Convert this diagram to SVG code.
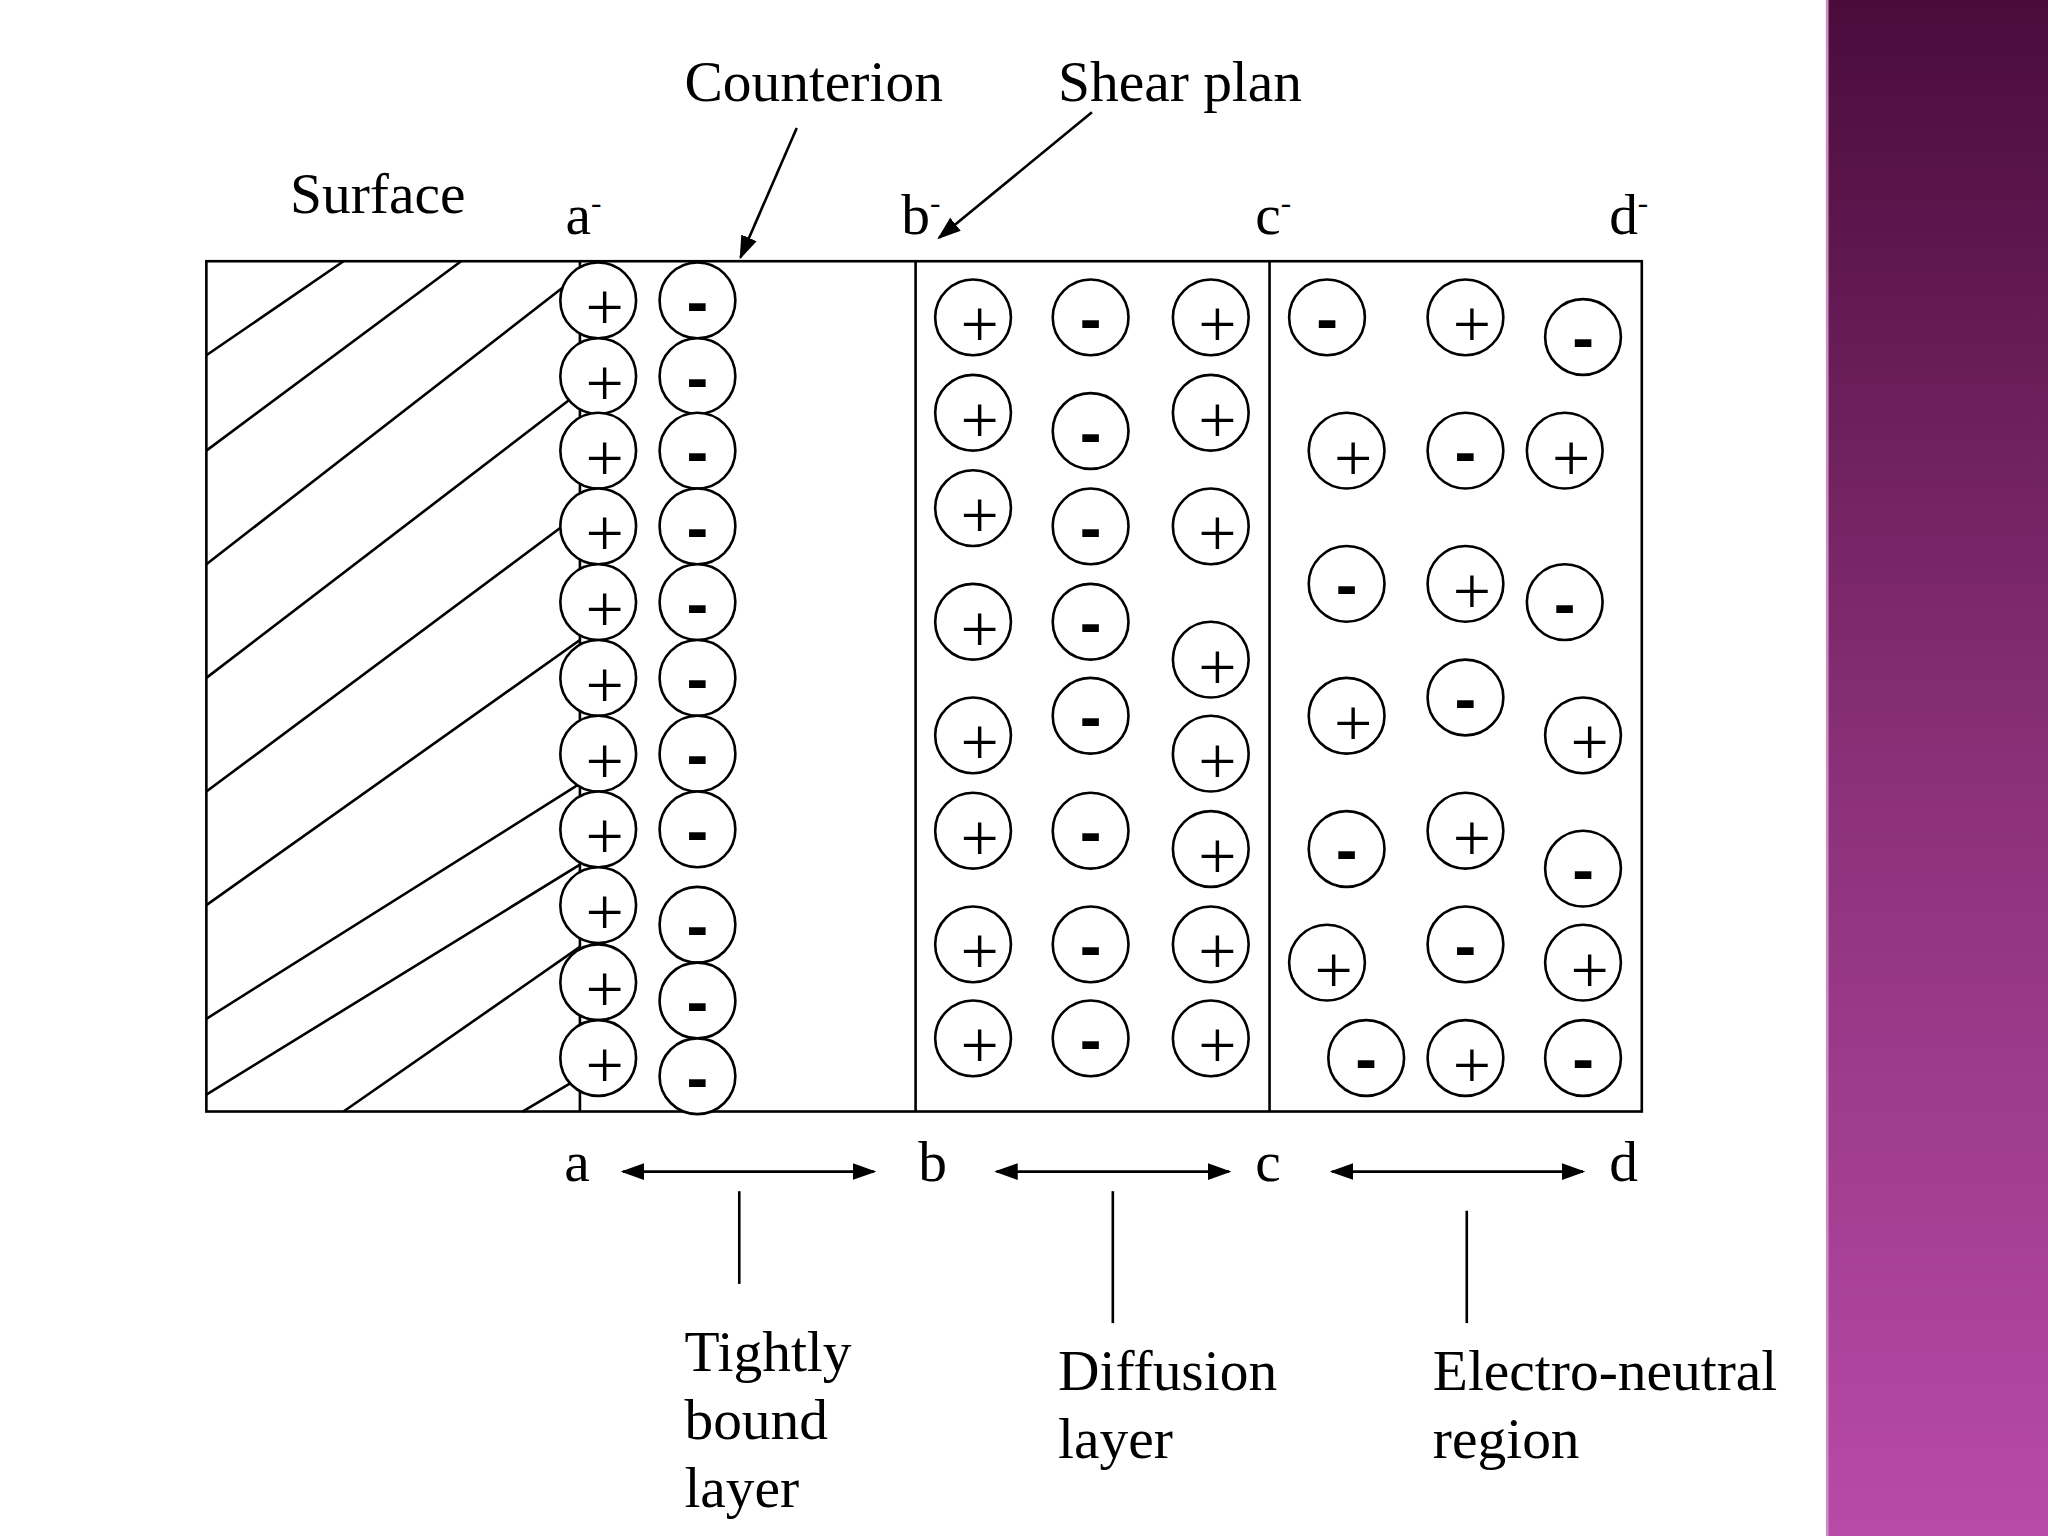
<svg xmlns="http://www.w3.org/2000/svg" width="2048" height="1536" viewBox="0 0 2048 1536">
<defs>
<linearGradient id="g" x1="0" y1="0" x2="0" y2="1"><stop offset="0" stop-color="#4a0b3b"/><stop offset="0.5" stop-color="#8a3078"/><stop offset="1" stop-color="#b84aa8"/></linearGradient>
<marker id="ah" viewBox="0 0 10 10" refX="9" refY="5" markerWidth="18" markerHeight="16" orient="auto-start-reverse" markerUnits="userSpaceOnUse" preserveAspectRatio="none"><path d="M0,1 L10,5 L0,9 z" fill="#000"/></marker>
<style>
.l{stroke:#000;stroke-width:2;fill:none}
.t{font-family:"Liberation Serif",serif;font-size:44px;fill:#000}
.p{font-family:"Liberation Serif",serif;font-size:52px;text-anchor:middle;fill:#000}
.m{font-family:"Liberation Sans",sans-serif;font-size:50px;font-weight:bold;text-anchor:middle;fill:#000}
</style>
</defs>
<rect width="2048" height="1536" fill="#fff"/>
<g transform="scale(1.30612)">
<rect x="1398" y="0" width="170" height="1176" fill="url(#g)"/>
<line x1="1399" y1="0" x2="1399" y2="1176" stroke="#c890c0" stroke-width="2"/>
<g id="surface">
<rect x="158" y="200" width="1099" height="651" class="l"/>
<path class="l" d="M158,272L263,200M158,345L353,200M158,432L444,210M158,519L444,300M158,606L444,393M158,693L444,490M158,780L444,600M158,838L444,662M263,851L444,725M400,851L444,825"/>
<line x1="444" y1="200" x2="444" y2="851" class="l"/>
<line x1="701" y1="200" x2="701" y2="851" class="l"/>
<line x1="972" y1="200" x2="972" y2="851" class="l"/>
</g>
<g id="ions">
<g fill="#fff" stroke="#000" stroke-width="2">
<circle cx="458" cy="230" r="29"/><circle cx="458" cy="288" r="29"/><circle cx="458" cy="345" r="29"/><circle cx="458" cy="403" r="29"/><circle cx="458" cy="461" r="29"/><circle cx="458" cy="519" r="29"/><circle cx="458" cy="577" r="29"/><circle cx="458" cy="635" r="29"/><circle cx="458" cy="693" r="29"/><circle cx="458" cy="752" r="29"/><circle cx="458" cy="810" r="29"/>
<circle cx="534" cy="230" r="29"/><circle cx="534" cy="288" r="29"/><circle cx="534" cy="345" r="29"/><circle cx="534" cy="403" r="29"/><circle cx="534" cy="461" r="29"/><circle cx="534" cy="519" r="29"/><circle cx="534" cy="577" r="29"/><circle cx="534" cy="635" r="29"/><circle cx="534" cy="708" r="29"/><circle cx="534" cy="766" r="29"/><circle cx="534" cy="824" r="29"/>
<circle cx="745" cy="243" r="29"/><circle cx="745" cy="316" r="29"/><circle cx="745" cy="389" r="29"/><circle cx="745" cy="476" r="29"/><circle cx="745" cy="563" r="29"/><circle cx="745" cy="636" r="29"/><circle cx="745" cy="723" r="29"/><circle cx="745" cy="795" r="29"/>
<circle cx="835" cy="243" r="29"/><circle cx="835" cy="330" r="29"/><circle cx="835" cy="403" r="29"/><circle cx="835" cy="476" r="29"/><circle cx="835" cy="548" r="29"/><circle cx="835" cy="636" r="29"/><circle cx="835" cy="723" r="29"/><circle cx="835" cy="795" r="29"/>
<circle cx="927" cy="243" r="29"/><circle cx="927" cy="316" r="29"/><circle cx="927" cy="403" r="29"/><circle cx="927" cy="505" r="29"/><circle cx="927" cy="577" r="29"/><circle cx="927" cy="650" r="29"/><circle cx="927" cy="723" r="29"/><circle cx="927" cy="795" r="29"/>
<circle cx="1016" cy="243" r="29"/><circle cx="1122" cy="243" r="29"/><circle cx="1212" cy="258" r="29"/>
<circle cx="1031" cy="345" r="29"/><circle cx="1122" cy="345" r="29"/><circle cx="1198" cy="345" r="29"/>
<circle cx="1031" cy="447" r="29"/><circle cx="1122" cy="447" r="29"/><circle cx="1198" cy="461" r="29"/>
<circle cx="1031" cy="548" r="29"/><circle cx="1122" cy="534" r="29"/><circle cx="1212" cy="563" r="29"/>
<circle cx="1031" cy="650" r="29"/><circle cx="1122" cy="636" r="29"/><circle cx="1212" cy="665" r="29"/>
<circle cx="1016" cy="737" r="29"/><circle cx="1122" cy="723" r="29"/><circle cx="1212" cy="737" r="29"/>
<circle cx="1046" cy="810" r="29"/><circle cx="1122" cy="810" r="29"/><circle cx="1212" cy="810" r="29"/>
</g>
<g class="p">
<text x="463" y="253">+</text><text x="463" y="311">+</text><text x="463" y="368">+</text><text x="463" y="426">+</text><text x="463" y="484">+</text><text x="463" y="542">+</text><text x="463" y="600">+</text><text x="463" y="658">+</text><text x="463" y="716">+</text><text x="463" y="775">+</text><text x="463" y="833">+</text>
<text x="750" y="266">+</text><text x="750" y="339">+</text><text x="750" y="412">+</text><text x="750" y="499">+</text><text x="750" y="586">+</text><text x="750" y="659">+</text><text x="750" y="746">+</text><text x="750" y="818">+</text>
<text x="932" y="266">+</text><text x="932" y="339">+</text><text x="932" y="426">+</text><text x="932" y="528">+</text><text x="932" y="600">+</text><text x="932" y="673">+</text><text x="932" y="746">+</text><text x="932" y="818">+</text>
<text x="1127" y="266">+</text><text x="1036" y="368">+</text><text x="1203" y="368">+</text><text x="1127" y="470">+</text><text x="1036" y="571">+</text><text x="1217" y="586">+</text><text x="1127" y="659">+</text><text x="1021" y="760">+</text><text x="1217" y="760">+</text><text x="1127" y="833">+</text>
</g>
<g class="m">
<text x="534" y="248">-</text><text x="534" y="306">-</text><text x="534" y="363">-</text><text x="534" y="421">-</text><text x="534" y="479">-</text><text x="534" y="537">-</text><text x="534" y="595">-</text><text x="534" y="653">-</text><text x="534" y="726">-</text><text x="534" y="784">-</text><text x="534" y="842">-</text>
<text x="835" y="261">-</text><text x="835" y="348">-</text><text x="835" y="421">-</text><text x="835" y="494">-</text><text x="835" y="566">-</text><text x="835" y="654">-</text><text x="835" y="741">-</text><text x="835" y="813">-</text>
<text x="1016" y="261">-</text><text x="1212" y="276">-</text><text x="1122" y="363">-</text><text x="1031" y="465">-</text><text x="1198" y="479">-</text><text x="1122" y="552">-</text><text x="1031" y="668">-</text><text x="1212" y="683">-</text><text x="1122" y="741">-</text><text x="1046" y="828">-</text><text x="1212" y="828">-</text>
</g>
</g>
<g id="connectors">
<line x1="610" y1="98" x2="567" y2="197" class="l" marker-end="url(#ah)"/>
<line x1="836" y1="86" x2="719" y2="182" class="l" marker-end="url(#ah)"/>
<line x1="477" y1="897" x2="669" y2="897" class="l" marker-start="url(#ah)" marker-end="url(#ah)"/>
<line x1="763" y1="897" x2="941" y2="897" class="l" marker-start="url(#ah)" marker-end="url(#ah)"/>
<line x1="1020" y1="897" x2="1212" y2="897" class="l" marker-start="url(#ah)" marker-end="url(#ah)"/>
<line x1="566" y1="912" x2="566" y2="983" class="l"/>
<line x1="852" y1="912" x2="852" y2="1013" class="l"/>
<line x1="1123" y1="927" x2="1123" y2="1013" class="l"/>
</g>
<g id="labels" class="t">
<text x="222" y="163">Surface</text>
<text x="524" y="77">Counterion</text>
<text x="810" y="77">Shear plan</text>
<text x="433" y="179">a<tspan font-size="24" dy="-16">-</tspan></text>
<text x="690" y="179">b<tspan font-size="24" dy="-16">-</tspan></text>
<text x="961" y="179">c<tspan font-size="24" dy="-16">-</tspan></text>
<text x="1232" y="179">d<tspan font-size="24" dy="-16">-</tspan></text>
<text x="432" y="904">a</text><text x="703" y="904">b</text><text x="961" y="904">c</text><text x="1232" y="904">d</text>
<text x="524" y="1050">Tightly</text><text x="524" y="1102">bound</text><text x="524" y="1154">layer</text>
<text x="810" y="1064">Diffusion</text><text x="810" y="1116">layer</text>
<text x="1097" y="1064">Electro-neutral</text><text x="1097" y="1116">region</text>
</g>
</g>
</svg>
